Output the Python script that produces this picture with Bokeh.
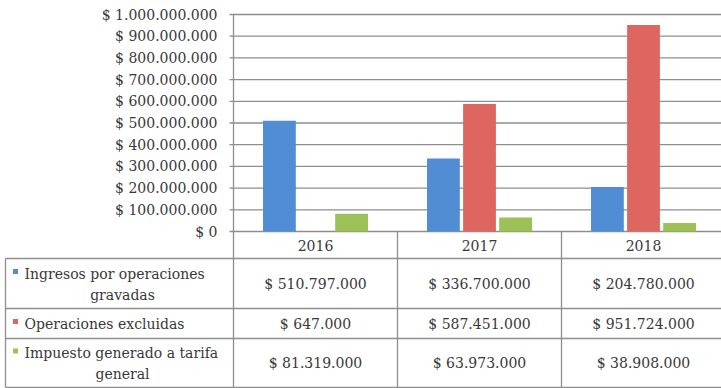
from bokeh.plotting import figure
from bokeh.models import Range1d, ColumnDataSource
from bokeh.core.properties import value
from bokeh.embed import file_html
from bokeh.resources import INLINE

# ---------------- data ----------------
years = ["2016", "2017", "2018"]
series_labels = [
    ["Ingresos por operaciones", "gravadas"],
    ["Operaciones excluidas"],
    ["Impuesto generado a tarifa", "general"],
]
ingresos = [510797000, 336700000, 204780000]
excluidas = [647000, 587451000, 951724000]
impuesto = [81319000, 63973000, 38908000]
y_ticks = [0, 100000000, 200000000, 300000000, 400000000, 500000000,
           600000000, 700000000, 800000000, 900000000, 1000000000]
y_tick_labels = ["$ 0", "$ 100.000.000", "$ 200.000.000", "$ 300.000.000",
                 "$ 400.000.000", "$ 500.000.000", "$ 600.000.000",
                 "$ 700.000.000", "$ 800.000.000", "$ 900.000.000",
                 "$ 1.000.000.000"]
colors = ["#508DD4", "#DE6660", "#9BC157"]

# ---------------- layout constants (pixels) ----------------
W, H = 721, 388
AXIS_X = 233          # pixel x of the value axis
COLW = 164.0          # pixel width of one category column
ZERO_Y = 231          # pixel y of value 0
TOP_Y = 14            # pixel y of the top tick
FONT = "DejaVu Serif"
TXT = "#383838"
GRID = "#8e8e8e"

all_series = [ingresos, excluidas, impuesto]
n = len(years)
vmax = y_ticks[-1]
px_per_val = (ZERO_Y - TOP_Y) / vmax

def px(dx):
    """horizontal pixel offset from the axis -> x data units"""
    return dx / COLW

def money(v):
    return "$ " + f"{v:,}".replace(",", ".")

p = figure(width=W, height=H,
           x_range=Range1d(px(-AXIS_X), px(W - AXIS_X)),
           y_range=Range1d(-(H - ZERO_Y) / px_per_val, ZERO_Y / px_per_val),
           output_backend="svg", toolbar_location=None,
           x_axis_location=None, y_axis_location=None, min_border=0,
           outline_line_color=None)
p.grid.visible = False
# table coordinates: pixels below the zero line (downwards positive)
p.extra_y_ranges = {"tbl": Range1d(H - ZERO_Y, -ZERO_Y)}

# ---------------- value axis: grid, ticks, labels ----------------
p.segment(x0=[px(-4)] * len(y_ticks), y0=y_ticks,
          x1=[px(W - AXIS_X)] * len(y_ticks), y1=y_ticks,
          line_color=GRID, line_width=1.3)
p.segment(x0=[0], y0=[0], x1=[0], y1=[vmax], line_color=GRID, line_width=1.3)
p.text(x=[px(-16)] * len(y_ticks), y=y_ticks, text=y_tick_labels,
       text_font=value(FONT), text_font_size="14px", text_color=TXT,
       text_align="right", text_baseline="middle")

# ---------------- bars ----------------
offsets = [-0.22, 0.0, 0.22]
for vals, off, c in zip(all_series, offsets, colors):
    src = ColumnDataSource(dict(x=[i + 0.5 + off for i in range(n)], top=vals))
    p.vbar(x="x", top="top", width=0.2, source=src, fill_color=c, line_color=None)

# ---------------- data table ----------------
row_edges = [0, 27, 77, 107, 156]
tbl_left = px(5 - AXIS_X)
right = px(W - AXIS_X)
hy = row_edges[1:]
p.segment(x0=[tbl_left] * len(hy), y0=hy, x1=[right] * len(hy), y1=hy,
          line_color=GRID, line_width=1.3, y_range_name="tbl")
vx = [float(i) for i in range(n)]
p.segment(x0=vx, y0=[row_edges[0]] * n, x1=vx, y1=[row_edges[-1]] * n,
          line_color=GRID, line_width=1.3, y_range_name="tbl")
p.segment(x0=[tbl_left], y0=[row_edges[1]], x1=[tbl_left], y1=[row_edges[-1]],
          line_color=GRID, line_width=1.3, y_range_name="tbl")

text_kw = dict(text_font=value(FONT), text_font_size="14px", text_color=TXT,
               text_baseline="middle", y_range_name="tbl")
p.text(x=[i + 0.5 for i in range(n)], y=[(row_edges[0] + row_edges[1]) / 2] * n,
       text=years, text_align="center", **text_kw)
for r, vals in enumerate(all_series):
    yc = (row_edges[r + 1] + row_edges[r + 2]) / 2
    p.text(x=[i + 0.5 for i in range(n)], y=[yc] * n,
           text=[money(v) for v in vals], text_align="center", **text_kw)

key_x = px(15 - AXIS_X)
lab_x = px(24 - AXIS_X)
mid_x = px(122 - AXIS_X)
for r, lines in enumerate(series_labels):
    yc = (row_edges[r + 1] + row_edges[r + 2]) / 2
    ys = [yc] if len(lines) == 1 else [yc - 10, yc + 11]
    p.scatter(x=[key_x], y=[ys[0] - 2], marker="square", size=5,
              fill_color=colors[r], line_color=None, y_range_name="tbl")
    p.text(x=[lab_x], y=[ys[0]], text=[lines[0]], text_align="left", **text_kw)
    if len(lines) > 1:
        p.text(x=[mid_x], y=[ys[1]], text=[lines[1]], text_align="center", **text_kw)

open("out.html", "w").write(file_html(p, INLINE))
